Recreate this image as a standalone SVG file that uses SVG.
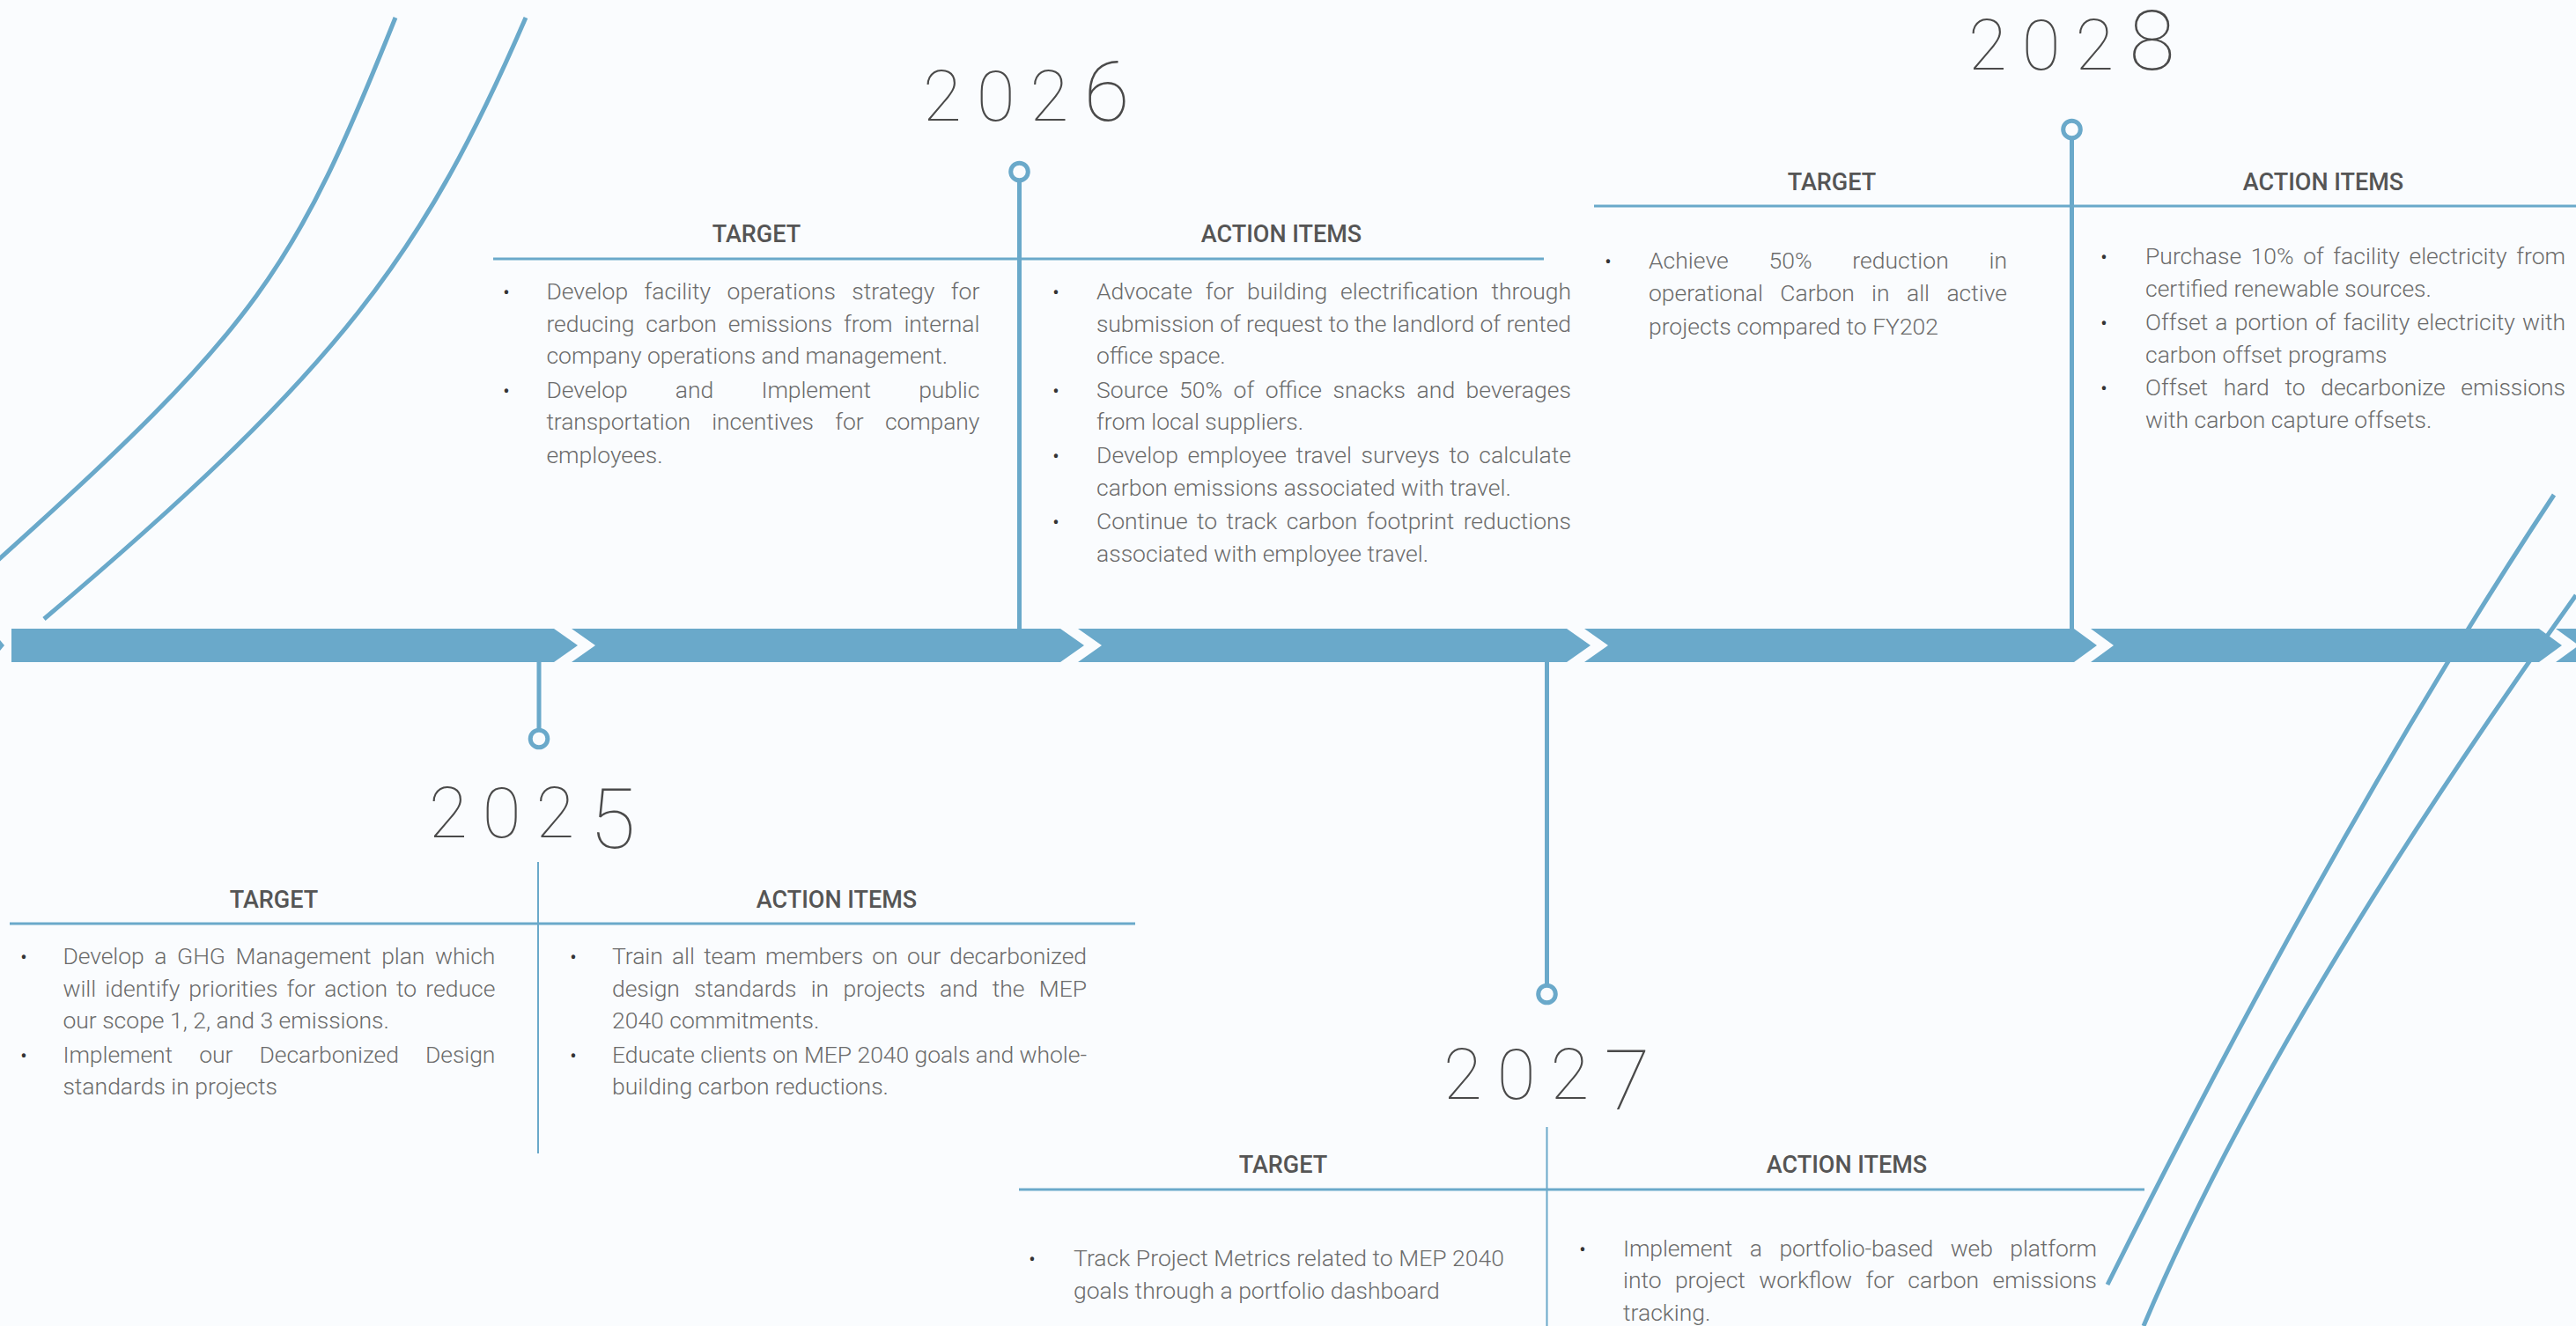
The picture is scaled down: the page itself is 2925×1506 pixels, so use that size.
<svg xmlns="http://www.w3.org/2000/svg" width="2925" height="1506" viewBox="0 0 2925 1506">
<defs>
<style>
.bg{fill:#fafcfe}
.bar{fill:#6aa9ca}
.deco{fill:none;stroke:#6aa9ca;stroke-width:5}
.stem{fill:none;stroke:#6aa9ca;stroke-width:5}
.ring{fill:#fafcfe;stroke:#6aa9ca;stroke-width:5}
.rule{stroke:#6aa9ca;stroke-width:3}
.div{stroke:#6aa9ca;stroke-width:2}
.year{font-family:Roboto,"Liberation Sans",sans-serif;font-weight:100;font-size:80px;fill:#4a4a4a;letter-spacing:17px}
.big{font-size:95px}
.hdr{font-family:Roboto,"Liberation Sans",sans-serif;font-weight:500;font-size:27px;fill:#555;text-anchor:middle}
.body{font-family:Roboto,"Liberation Sans",sans-serif;font-weight:300;font-size:26.5px;fill:#6b6b6b}
.bul{font-family:Roboto,"Liberation Sans",sans-serif;font-size:22px;fill:#333;text-anchor:middle}
</style>
</defs>
<rect class="bg" x="0" y="0" width="2925" height="1506"/>

<g id="decorations">
<path class="deco" d="M449,20 C335,305 295,370 -10,643"/>
<path class="deco" d="M597,20 C481,288 388,417 50,703"/>
<path class="deco" d="M2900,562 Q2656,931 2393,1459"/>
<path class="deco" d="M2925,676 Q2580,1160 2434,1506"/>
</g>

<g id="timeline">
<polygon class="bar" points="0,727 5,733 0,739"/>
<polygon class="bar" points="13,714 629,714 656,733 629,752 13,752"/>
<polygon class="bar" points="649,714 1204,714 1231,733 1204,752 649,752 676,733"/>
<polygon class="bar" points="1224,714 1779,714 1806,733 1779,752 1224,752 1251,733"/>
<polygon class="bar" points="1799,714 2355,714 2381,733 2355,752 1799,752 1826,733"/>
<polygon class="bar" points="2374,714 2883,714 2909,733 2883,752 2374,752 2400,733"/>
<polygon class="bar" points="2902,714 2940,714 2940,752 2902,752 2928,733"/>
</g>

<g id="connectors">
<line class="stem" x1="612" y1="752" x2="612" y2="827"/>
<circle class="ring" cx="612" cy="839" r="9.8"/>
<line class="stem" x1="1157.5" y1="207" x2="1157.5" y2="714"/>
<circle class="ring" cx="1157.5" cy="195" r="9.8"/>
<line class="stem" x1="1756.5" y1="752" x2="1756.5" y2="1117"/>
<circle class="ring" cx="1756.5" cy="1129" r="9.8"/>
<line class="stem" x1="2352.5" y1="159" x2="2352.5" y2="714"/>
<circle class="ring" cx="2352.5" cy="147" r="9.8"/>
</g>

<g id="node-2025">
<text class="year" x="487" y="951">202<tspan class="big" dy="12">5</tspan></text>
<line class="div" x1="611" y1="979" x2="611" y2="1310"/>
<line class="rule" x1="11" y1="1049" x2="1289" y2="1049"/>
<text class="hdr" x="311" y="1031">TARGET</text>
<text class="hdr" x="950" y="1031">ACTION ITEMS</text>
<text class="bul" x="27" y="1095">•</text>
<text class="bul" x="27" y="1207">•</text>
<text class="body" x="71.4" y="1095" word-spacing="5.3" textLength="491" lengthAdjust="spacing">Develop a GHG Management plan which</text>
<text class="body" x="71.4" y="1132" word-spacing="3.6" textLength="491" lengthAdjust="spacing">will identify priorities for action to reduce</text>
<text class="body" x="71.4" y="1168">our scope 1, 2, and 3 emissions.</text>
<text class="body" x="71.4" y="1207" word-spacing="23.7" textLength="491" lengthAdjust="spacing">Implement our Decarbonized Design</text>
<text class="body" x="71.4" y="1243">standards in projects</text>
<text class="bul" x="651" y="1095">•</text>
<text class="bul" x="651" y="1207">•</text>
<text class="body" x="695" y="1095" word-spacing="3.9" textLength="539" lengthAdjust="spacing">Train all team members on our decarbonized</text>
<text class="body" x="695" y="1132" word-spacing="9.9" textLength="539" lengthAdjust="spacing">design standards in projects and the MEP</text>
<text class="body" x="695" y="1168">2040 commitments.</text>
<text class="body" x="695" y="1207" textLength="539" lengthAdjust="spacing">Educate clients on MEP 2040 goals and whole-</text>
<text class="body" x="695" y="1243">building carbon reductions.</text>
</g>

<g id="node-2026">
<text class="year" x="1048" y="137">202<tspan class="big">6</tspan></text>
<line class="rule" x1="560" y1="294" x2="1753" y2="294"/>
<text class="hdr" x="859" y="275">TARGET</text>
<text class="hdr" x="1455" y="275">ACTION ITEMS</text>
<text class="bul" x="575" y="340">•</text>
<text class="bul" x="575" y="452">•</text>
<text class="body" x="620.4" y="340" word-spacing="11.9" textLength="492" lengthAdjust="spacing">Develop facility operations strategy for</text>
<text class="body" x="620.4" y="377" word-spacing="6.6" textLength="492" lengthAdjust="spacing">reducing carbon emissions from internal</text>
<text class="body" x="620.4" y="413">company operations and management.</text>
<text class="body" x="620.4" y="452" word-spacing="47.9" textLength="492" lengthAdjust="spacing">Develop and Implement public</text>
<text class="body" x="620.4" y="488" word-spacing="18" textLength="492" lengthAdjust="spacing">transportation incentives for company</text>
<text class="body" x="620.4" y="526">employees.</text>
<text class="bul" x="1199" y="340">•</text>
<text class="bul" x="1199" y="452">•</text>
<text class="bul" x="1199" y="526">•</text>
<text class="bul" x="1199" y="601">•</text>
<text class="body" x="1245" y="340" word-spacing="8.3" textLength="539" lengthAdjust="spacing">Advocate for building electrification through</text>
<text class="body" x="1245" y="377" textLength="539" lengthAdjust="spacing">submission of request to the landlord of rented</text>
<text class="body" x="1245" y="413">office space.</text>
<text class="body" x="1245" y="452" word-spacing="5.9" textLength="539" lengthAdjust="spacing">Source 50% of office snacks and beverages</text>
<text class="body" x="1245" y="488">from local suppliers.</text>
<text class="body" x="1245" y="526" word-spacing="4" textLength="539" lengthAdjust="spacing">Develop employee travel surveys to calculate</text>
<text class="body" x="1245" y="563">carbon emissions associated with travel.</text>
<text class="body" x="1245" y="601" word-spacing="4" textLength="539" lengthAdjust="spacing">Continue to track carbon footprint reductions</text>
<text class="body" x="1245" y="638">associated with employee travel.</text>
</g>

<g id="node-2027">
<text class="year" x="1639" y="1248">202<tspan class="big" dy="12">7</tspan></text>
<line class="div" x1="1756.5" y1="1280" x2="1756.5" y2="1506"/>
<line class="rule" x1="1157" y1="1351" x2="2435" y2="1351"/>
<text class="hdr" x="1457" y="1332">TARGET</text>
<text class="hdr" x="2097" y="1332">ACTION ITEMS</text>
<text class="bul" x="1172" y="1438">•</text>
<text class="body" x="1219" y="1438" textLength="489" lengthAdjust="spacing">Track Project Metrics related to MEP 2040</text>
<text class="body" x="1219" y="1475">goals through a portfolio dashboard</text>
<text class="bul" x="1797" y="1427">•</text>
<text class="body" x="1843" y="1427" word-spacing="13.2" textLength="538" lengthAdjust="spacing">Implement a portfolio-based web platform</text>
<text class="body" x="1843" y="1463" word-spacing="9" textLength="538" lengthAdjust="spacing">into project workflow for carbon emissions</text>
<text class="body" x="1843" y="1500">tracking.</text>
</g>

<g id="node-2028">
<text class="year" x="2235" y="79">202<tspan class="big">8</tspan></text>
<line class="rule" x1="1810" y1="234" x2="2925" y2="234"/>
<text class="hdr" x="2080" y="216">TARGET</text>
<text class="hdr" x="2638" y="216">ACTION ITEMS</text>
<text class="bul" x="1826" y="305">•</text>
<text class="body" x="1872" y="305" word-spacing="39.2" textLength="407" lengthAdjust="spacing">Achieve 50% reduction in</text>
<text class="body" x="1872" y="342" word-spacing="12.9" textLength="407" lengthAdjust="spacing">operational Carbon in all active</text>
<text class="body" x="1872" y="380">projects compared to FY202</text>
<text class="bul" x="2389" y="300">•</text>
<text class="bul" x="2389" y="375">•</text>
<text class="bul" x="2389" y="449">•</text>
<text class="body" x="2436" y="300" word-spacing="4" textLength="477" lengthAdjust="spacing">Purchase 10% of facility electricity from</text>
<text class="body" x="2436" y="337">certified renewable sources.</text>
<text class="body" x="2436" y="375" word-spacing="1.6" textLength="477" lengthAdjust="spacing">Offset a portion of facility electricity with</text>
<text class="body" x="2436" y="412">carbon offset programs</text>
<text class="body" x="2436" y="449" word-spacing="11.2" textLength="477" lengthAdjust="spacing">Offset hard to decarbonize emissions</text>
<text class="body" x="2436" y="486">with carbon capture offsets.</text>
</g>
</svg>
